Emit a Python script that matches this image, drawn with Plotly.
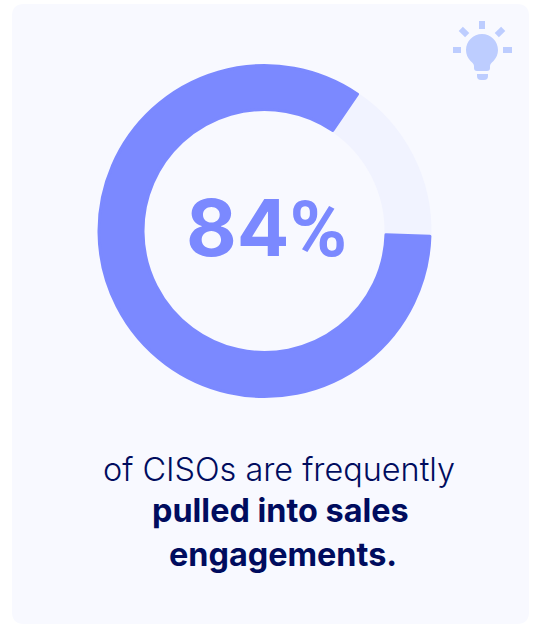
import plotly.graph_objects as go

# Survey result
labels = ["Other CISOs", "Frequently pulled into sales engagements"]
values = [16, 84]
headline_value = "84"
headline_unit = "%"
caption_lines = ["of CISOs are frequently", "<b>pulled into sales</b>", "<b>engagements.</b>"]

BLUE = "#7B89FF"
PALE = "#F1F3FF"
CARD = "#F8F9FF"
BULB = "#BDCDFF"
NAVY = "#000C5E"
W, H = 536, 627


def rounded_rect(x0, y0, x1, y1, r):
    return (f"M{x0+r},{y0} L{x1-r},{y0} Q{x1},{y0} {x1},{y0+r} L{x1},{y1-r} Q{x1},{y1} {x1-r},{y1} "
            f"L{x0+r},{y1} Q{x0},{y1} {x0},{y1-r} L{x0},{y0+r} Q{x0},{y0} {x0+r},{y0} Z")


def solid(path, color):
    return dict(type="path", path=path, xref="x", yref="y", fillcolor=color,
                line=dict(width=0), layer="below")


# Card behind everything, then the light bulb icon in its corner
shapes = [solid(rounded_rect(12, 4, 529, 624, 12), CARD)]
shapes += [
    solid("M470.5,61 C467.7,58 466,54 466,50 C466,41.2 473.2,34 482,34 C490.8,34 498,41.2 498,50 "
          "C498,54 496.3,58 493.5,61 C491.5,63 490,64 490,66 L490,68 Q490,71 487,71 L477,71 "
          "Q474,71 474,68 L474,66 C474,64 472.5,63 470.5,61 Z", BULB),
    solid("M477,74 L488,74 L488,76 Q488,80 484,80 L481,80 Q477,80 477,76 Z", BULB),
    solid("M479,21 L485,21 L485,29 L479,29 Z", BULB),
    solid("M453,47 L461,47 L461,53 L453,53 Z", BULB),
    solid("M503,47 L512,47 L512,53 L503,53 Z", BULB),
    solid("M469.3,33.1 L465.1,37.3 L458.7,30.9 L462.9,26.7 Z", BULB),
    solid("M494.7,33.1 L498.9,37.3 L505.3,30.9 L501.1,26.7 Z", BULB),
]

cx, cy, outer = 264.5, 231, 165.5
donut = go.Pie(
    labels=labels, values=values, sort=False, direction="clockwise", rotation=34.2,
    hole=(120 + 1.5) / outer,
    domain=dict(x=[(cx - outer) / W, (cx + outer) / W], y=[1 - (cy + outer) / H, 1 - (cy - outer) / H]),
    marker=dict(colors=[PALE, BLUE], line=dict(color=[PALE, BLUE], width=[3, 3])),
    textinfo="none", showlegend=False, hoverinfo="label+percent",
)

annotations = [dict(x=266.5, y=227.5, xref="x", yref="y",
                    text=f"{headline_value}<span style='font-family:Roboto'>{headline_unit}</span>",
                    showarrow=False, font=dict(family="Inter", size=78, color=BLUE, weight=700))]
for y, x, line in zip([469, 510, 554], [279, 280, 282.5], caption_lines):
    annotations.append(dict(x=x, y=y, xref="x", yref="y", text=line, showarrow=False,
                            font=dict(family="Inter", size=32.4, color=NAVY,
                                      weight=350 if line is caption_lines[0] else 400)))

fig = go.Figure(donut)
fig.update_layout(
    width=W, height=H, margin=dict(l=0, r=0, t=0, b=0), paper_bgcolor="#FFFFFF", plot_bgcolor="rgba(0,0,0,0)",
    xaxis=dict(range=[0, W], visible=False, domain=[0, 1]),
    yaxis=dict(range=[H, 0], visible=False, domain=[0, 1]),
    shapes=shapes, annotations=annotations,
)
# The x/y axes only carry the card and icon geometry
fig.add_trace(go.Scatter(x=[0], y=[0], mode="markers", marker=dict(opacity=0), showlegend=False, hoverinfo="skip"))

# Round the slice corners
fig.write_html("out.html", config=dict(displayModeBar=False),
               post_script="document.querySelectorAll('.slice path').forEach(p=>p.style.strokeLinejoin='round');")
